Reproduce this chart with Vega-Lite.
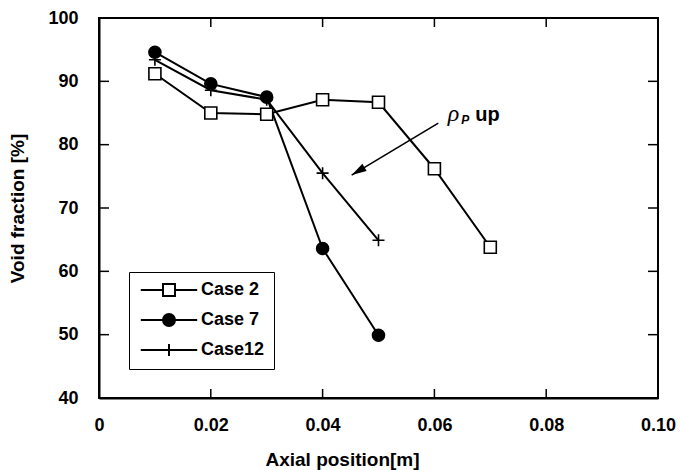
{
  "$schema": "https://vega.github.io/schema/vega-lite/v6.json",
  "width": 559,
  "height": 380,
  "autosize": {"type": "none"},
  "padding": {"left": 99, "top": 18, "right": 23, "bottom": 72},
  "background": "white",
  "config": {
    "view": {"stroke": "black", "strokeWidth": 2},
    "axis": {
      "labelFont": "Liberation Sans", "labelFontWeight": "bold", "labelFontSize": 18, "labelColor": "black",
      "titleFont": "Liberation Sans", "titleFontWeight": "bold", "titleFontSize": 19, "titleColor": "black",
      "domainColor": "black", "domainWidth": 2, "ticks": false, "grid": false
    }
  },
  "datasets": {
    "pts": [
      {"case": "Case 2", "x": 0.01, "y": 91.2},
      {"case": "Case 2", "x": 0.02, "y": 85.0},
      {"case": "Case 2", "x": 0.03, "y": 84.8},
      {"case": "Case 2", "x": 0.04, "y": 87.1},
      {"case": "Case 2", "x": 0.05, "y": 86.7},
      {"case": "Case 2", "x": 0.06, "y": 76.2},
      {"case": "Case 2", "x": 0.07, "y": 63.8},
      {"case": "Case 7", "x": 0.01, "y": 94.6},
      {"case": "Case 7", "x": 0.02, "y": 89.6},
      {"case": "Case 7", "x": 0.03, "y": 87.5},
      {"case": "Case 7", "x": 0.04, "y": 63.6},
      {"case": "Case 7", "x": 0.05, "y": 49.9},
      {"case": "Case12", "x": 0.01, "y": 93.4},
      {"case": "Case12", "x": 0.02, "y": 88.6},
      {"case": "Case12", "x": 0.03, "y": 87.1},
      {"case": "Case12", "x": 0.04, "y": 75.5},
      {"case": "Case12", "x": 0.05, "y": 64.9}
    ],
    "xticks": [{"v": 0.02}, {"v": 0.04}, {"v": 0.06}, {"v": 0.08}],
    "yticks": [{"v": 50}, {"v": 60}, {"v": 70}, {"v": 80}, {"v": 90}]
  },
  "layer": [
    {
      "data": {"name": "pts"},
      "mark": {"type": "line", "color": "black", "strokeWidth": 2},
      "encoding": {
        "x": {"field": "x", "type": "quantitative", "scale": {"domain": [0, 0.1], "nice": false, "zero": false},
          "axis": {"orient": "bottom", "values": [0, 0.02, 0.04, 0.06, 0.08, 0.1], "labelExpr": "datum.value == 0 ? '0' : format(datum.value, '.2f')", "labelPadding": 18, "title": "Axial position[m]", "titleX": 243, "titleY": 67, "titleBaseline": "alphabetic", "labelFlush": false}},
        "y": {"field": "y", "type": "quantitative", "scale": {"domain": [40, 100], "nice": false, "zero": false},
          "axis": {"orient": "left", "values": [40, 50, 60, 70, 80, 90, 100], "labelPadding": 21, "title": "Void fraction [%]", "titleX": -72, "titleY": 190, "titleBaseline": "bottom", "titleAngle": -90}},
        "detail": {"field": "case"}
      }
    },
    {
      "data": {"name": "xticks"},
      "mark": {"type": "tick", "orient": "vertical", "size": 9, "thickness": 1.5, "yOffset": -4.5, "color": "black", "opacity": 1},
      "encoding": {
        "x": {"field": "v", "type": "quantitative", "axis": null},
        "y": {"datum": 40, "type": "quantitative", "axis": null}
      }
    },
    {
      "data": {"name": "xticks"},
      "mark": {"type": "tick", "orient": "vertical", "size": 9, "thickness": 1.5, "yOffset": 4.5, "color": "black", "opacity": 1},
      "encoding": {
        "x": {"field": "v", "type": "quantitative", "axis": null},
        "y": {"datum": 100, "type": "quantitative", "axis": null}
      }
    },
    {
      "data": {"name": "yticks"},
      "mark": {"type": "tick", "orient": "horizontal", "size": 10, "thickness": 1.5, "xOffset": 5, "color": "black", "opacity": 1},
      "encoding": {
        "y": {"field": "v", "type": "quantitative", "axis": null},
        "x": {"datum": 0, "type": "quantitative", "axis": null}
      }
    },
    {
      "data": {"name": "yticks"},
      "mark": {"type": "tick", "orient": "horizontal", "size": 10, "thickness": 1.5, "xOffset": -5, "color": "black", "opacity": 1},
      "encoding": {
        "y": {"field": "v", "type": "quantitative", "axis": null},
        "x": {"datum": 0.1, "type": "quantitative", "axis": null}
      }
    },
    {
      "data": {"name": "pts"},
      "mark": {"type": "point", "stroke": "black", "strokeWidth": 1.6, "opacity": 1, "size": 144},
      "encoding": {
        "x": {"field": "x", "type": "quantitative", "axis": null},
        "y": {"field": "y", "type": "quantitative", "axis": null},
        "shape": {"field": "case", "type": "nominal", "scale": {"domain": ["Case 2", "Case 7", "Case12"], "range": ["square", "circle", "M-1,0H1M0,-1V1"]}, "legend": null},
        "fill": {"field": "case", "type": "nominal", "scale": {"domain": ["Case 2", "Case 7", "Case12"], "range": ["#ffffff", "#000000", "transparent"]}, "legend": null}
      }
    },
    {
      "data": {"name": "pts"},
      "mark": {"type": "point", "stroke": "black", "strokeWidth": 2, "opacity": 0, "size": 144},
      "encoding": {
        "x": {"field": "x", "type": "quantitative", "axis": null},
        "y": {"field": "y", "type": "quantitative", "axis": null},
        "shape": {"field": "case", "type": "nominal", "scale": {"domain": ["Case 2", "Case 7", "Case12"], "range": ["M-4.7,0H-1M1,0H4.7M-1,-1H1V1H-1Z", "M-4.7,0H4.7M-1,0A1,1 0 1 1 1,0A1,1 0 1 1 -1,0Z", "M-4.7,0H4.7M0,-1V1"]},
          "legend": {"title": null, "orient": "none", "legendX": 30, "legendY": 254, "symbolOpacity": 1, "symbolSize": 144, "symbolStrokeWidth": 2, "symbolStrokeColor": "black", "symbolOffset": 22, "labelFont": "Liberation Sans", "labelFontWeight": "bold", "labelFontSize": 18, "labelColor": "black", "labelOffset": 23, "rowPadding": 10, "padding": 9, "strokeColor": "black", "fillColor": "white",
            "encode": {"symbols": {"update": {"stroke": {"value": "black"}, "strokeWidth": {"value": 2}, "opacity": {"value": 1}}}}}},
        "fill": {"field": "case", "type": "nominal", "scale": {"domain": ["Case 2", "Case 7", "Case12"], "range": ["#ffffff", "#000000", "transparent"]},
          "legend": {"title": null, "orient": "none", "legendX": 30, "legendY": 254, "symbolOpacity": 1, "symbolSize": 144, "symbolStrokeWidth": 2, "symbolStrokeColor": "black", "symbolOffset": 22, "labelFont": "Liberation Sans", "labelFontWeight": "bold", "labelFontSize": 18, "labelColor": "black", "labelOffset": 23, "rowPadding": 10, "padding": 9, "strokeColor": "black", "fillColor": "white",
            "encode": {"symbols": {"update": {"stroke": {"value": "black"}, "strokeWidth": {"value": 2}, "opacity": {"value": 1}}}}}}
      }
    },
    {
      "data": {"values": [{"x": 0.0607, "y": 83.4, "x2": 0.0452, "y2": 75.2}]},
      "mark": {"type": "rule", "color": "black", "strokeWidth": 1.6},
      "encoding": {
        "x": {"field": "x", "type": "quantitative", "axis": null},
        "y": {"field": "y", "type": "quantitative", "axis": null},
        "x2": {"field": "x2"},
        "y2": {"field": "y2"}
      }
    },
    {
      "data": {"values": [{"x": 0.0452, "y": 75.2}]},
      "mark": {"type": "point", "shape": "M0,0L0.55,2L-0.55,2Z", "size": 225, "angle": 239, "filled": true, "color": "black", "opacity": 1},
      "encoding": {
        "x": {"field": "x", "type": "quantitative", "axis": null},
        "y": {"field": "y", "type": "quantitative", "axis": null}
      }
    },
    {
      "data": {"values": [{"x": 0.0624, "y": 83.74, "t": "ρ"}]},
      "mark": {"type": "text", "font": "Liberation Serif", "fontStyle": "italic", "fontSize": 24, "align": "left", "baseline": "alphabetic", "color": "black"},
      "encoding": {
        "x": {"field": "x", "type": "quantitative", "axis": null},
        "y": {"field": "y", "type": "quantitative", "axis": null},
        "text": {"field": "t"}
      }
    },
    {
      "data": {"values": [{"x": 0.0648, "y": 83.26, "t": "P"}]},
      "mark": {"type": "text", "font": "Liberation Sans", "fontStyle": "italic", "fontWeight": "bold", "fontSize": 12, "align": "left", "baseline": "alphabetic", "color": "black"},
      "encoding": {
        "x": {"field": "x", "type": "quantitative", "axis": null},
        "y": {"field": "y", "type": "quantitative", "axis": null},
        "text": {"field": "t"}
      }
    },
    {
      "data": {"values": [{"x": 0.0673, "y": 83.74, "t": "up"}]},
      "mark": {"type": "text", "font": "Liberation Sans", "fontWeight": "bold", "fontSize": 20, "align": "left", "baseline": "alphabetic", "color": "black"},
      "encoding": {
        "x": {"field": "x", "type": "quantitative", "axis": null},
        "y": {"field": "y", "type": "quantitative", "axis": null},
        "text": {"field": "t"}
      }
    }
  ],
  "resolve": {
    "scale": {"shape": "independent", "fill": "independent"},
    "axis": {"x": "independent", "y": "independent"}
  }
}
